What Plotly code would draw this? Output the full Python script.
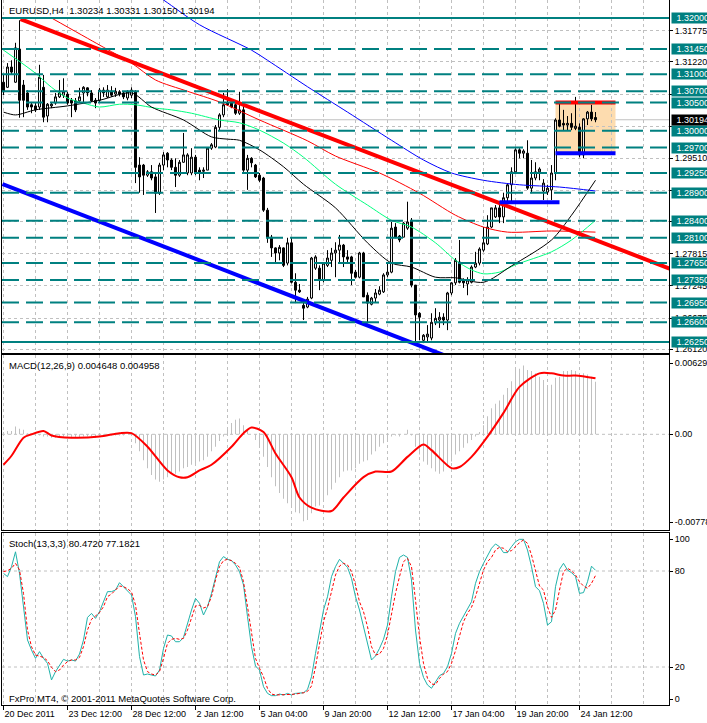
import plotly.graph_objects as go

# ---------------- data ----------------
bar_idx = list(range(149))

open_ = [
    1.3086, 1.3077, 1.3113, 1.3086, 1.3145, 1.3081, 1.3067, 1.3046, 1.3044, 1.3042,
    1.3077, 1.3026, 1.3044, 1.3049, 1.3060, 1.3063, 1.3065, 1.3054, 1.3053, 1.3053,
    1.3067, 1.3076, 1.3067, 1.3054, 1.3054, 1.3072, 1.3060, 1.3070, 1.3065, 1.3069,
    1.3067, 1.3058, 1.3063, 1.3069, 1.2939, 1.2939, 1.2921, 1.2927, 1.2918, 1.2889,
    1.2939, 1.2960, 1.2948, 1.2935, 1.2921, 1.2944, 1.2925, 1.2925, 1.2953, 1.2930,
    1.2928, 1.2930, 1.2969, 1.2971, 1.3006, 1.3028, 1.3049, 1.3049, 1.3046, 1.3031,
    1.3037, 1.2930, 1.2951, 1.2939, 1.2921, 1.2916, 1.2859, 1.2811, 1.2792, 1.2783,
    1.2792, 1.2765, 1.2801, 1.2731, 1.2717, 1.2690, 1.2687, 1.2703, 1.2756, 1.2756,
    1.2735, 1.2761, 1.2770, 1.2783, 1.2788, 1.2797, 1.2776, 1.2776, 1.2749, 1.2740,
    1.2783, 1.2708, 1.2692, 1.2703, 1.2710, 1.2714, 1.2744, 1.2749, 1.2829, 1.2813,
    1.2811, 1.2827, 1.2841, 1.2726, 1.2676, 1.2628, 1.2634, 1.2632, 1.2659, 1.2664,
    1.2669, 1.2664, 1.2712, 1.2730, 1.2767, 1.2735, 1.2728, 1.2731, 1.2758, 1.2765,
    1.2788, 1.2799, 1.2829, 1.2847, 1.2863, 1.2847, 1.2881, 1.2904, 1.2927, 1.2966,
    1.2960, 1.2960, 1.2898, 1.2916, 1.2927, 1.2893, 1.2891, 1.2895, 1.2925, 1.3019,
    1.3013, 1.3010, 1.3013, 1.3004, 1.3006, 1.2957, 1.3021, 1.3033, 1.30234]
high = [
    1.3099, 1.3120, 1.3125, 1.3156, 1.3196, 1.3090, 1.3072, 1.3051, 1.3049, 1.3117,
    1.3099, 1.3049, 1.3051, 1.3067, 1.3090, 1.3093, 1.3069, 1.3058, 1.3058, 1.3076,
    1.3079, 1.3077, 1.3072, 1.3058, 1.3076, 1.3077, 1.3081, 1.3079, 1.3076, 1.3072,
    1.3070, 1.3072, 1.3077, 1.3072, 1.2953, 1.2941, 1.2930, 1.2939, 1.2925, 1.2943,
    1.2962, 1.2962, 1.2951, 1.2951, 1.2948, 1.2996, 1.2960, 1.2969, 1.2957, 1.2935,
    1.2935, 1.2971, 1.2978, 1.3010, 1.3031, 1.3067, 1.3074, 1.3056, 1.3049, 1.3069,
    1.3049, 1.2957, 1.2953, 1.2941, 1.2925, 1.2918, 1.2863, 1.2815, 1.2793, 1.2797,
    1.2793, 1.2810, 1.2810, 1.2747, 1.2728, 1.2699, 1.2705, 1.2776, 1.2779, 1.2761,
    1.2767, 1.2788, 1.2792, 1.2802, 1.2815, 1.2799, 1.2788, 1.2778, 1.2753, 1.2785,
    1.2785, 1.2713, 1.2705, 1.2719, 1.2724, 1.2747, 1.2767, 1.2838, 1.2836, 1.2815,
    1.2838, 1.2874, 1.2845, 1.2726, 1.2678, 1.2639, 1.2655, 1.2676, 1.2685, 1.2678,
    1.2676, 1.2714, 1.2731, 1.2774, 1.2806, 1.2738, 1.2740, 1.2761, 1.2785, 1.2793,
    1.2829, 1.2850, 1.2863, 1.2868, 1.2874, 1.2890, 1.2907, 1.2935, 1.2969, 1.2969,
    1.2967, 1.2983, 1.2948, 1.2944, 1.2935, 1.2914, 1.2904, 1.2939, 1.3022, 1.3051,
    1.3037, 1.3026, 1.3031, 1.3060, 1.3013, 1.3022, 1.3035, 1.3046, 1.30331]
low = [
    1.3063, 1.3076, 1.3099, 1.3085, 1.3023, 1.3024, 1.3037, 1.3031, 1.3033, 1.3037,
    1.3015, 1.3015, 1.3040, 1.3046, 1.3058, 1.3058, 1.3046, 1.3024, 1.3033, 1.3051,
    1.3051, 1.3061, 1.3051, 1.3040, 1.3051, 1.3060, 1.3058, 1.3060, 1.3060, 1.3061,
    1.3056, 1.3054, 1.3058, 1.2907, 1.2890, 1.2886, 1.2918, 1.2912, 1.2854, 1.2886,
    1.2930, 1.2935, 1.2930, 1.2900, 1.2918, 1.2943, 1.2921, 1.2921, 1.2921, 1.2912,
    1.2916, 1.2930, 1.2966, 1.2969, 1.3001, 1.3024, 1.3044, 1.3040, 1.3028, 1.3028,
    1.2927, 1.2895, 1.2935, 1.2916, 1.2909, 1.2856, 1.2801, 1.2776, 1.2767, 1.2770,
    1.2758, 1.2761, 1.2729, 1.2694, 1.2712, 1.2664, 1.2685, 1.2701, 1.2753, 1.2717,
    1.2731, 1.2758, 1.2758, 1.2740, 1.2767, 1.2758, 1.2765, 1.2726, 1.2738, 1.2738,
    1.2705, 1.2658, 1.2690, 1.2696, 1.2708, 1.2712, 1.2740, 1.2747, 1.2809, 1.2802,
    1.2811, 1.2824, 1.2722, 1.2623, 1.2628, 1.2623, 1.2625, 1.2628, 1.2655, 1.2650,
    1.2655, 1.2646, 1.2708, 1.2726, 1.2729, 1.2721, 1.2708, 1.2729, 1.2756, 1.2761,
    1.2785, 1.2797, 1.2827, 1.2845, 1.2836, 1.2836, 1.2872, 1.2872, 1.2925, 1.2951,
    1.2951, 1.2895, 1.2889, 1.2912, 1.2912, 1.2877, 1.2886, 1.2877, 1.2912, 1.3006,
    1.3001, 1.3001, 1.3001, 1.3001, 1.2953, 1.2951, 1.3010, 1.3017, 1.30150]
close = [
    1.3069, 1.3113, 1.3104, 1.3147, 1.3054, 1.3054, 1.3042, 1.3042, 1.3037, 1.3095,
    1.3024, 1.3047, 1.3047, 1.3060, 1.3067, 1.3069, 1.3049, 1.3049, 1.3037, 1.3060,
    1.3077, 1.3067, 1.3053, 1.3049, 1.3072, 1.3067, 1.3072, 1.3063, 1.3070, 1.3065,
    1.3060, 1.3069, 1.3072, 1.2935, 1.2918, 1.2921, 1.2927, 1.2916, 1.2889, 1.2939,
    1.2957, 1.2948, 1.2935, 1.2921, 1.2944, 1.2957, 1.2957, 1.2953, 1.2925, 1.2925,
    1.2930, 1.2969, 1.2975, 1.3006, 1.3028, 1.3046, 1.3046, 1.3042, 1.3031, 1.3037,
    1.2930, 1.2951, 1.2943, 1.2918, 1.2912, 1.2859, 1.2810, 1.2792, 1.2783, 1.2793,
    1.2761, 1.2801, 1.2731, 1.2717, 1.2714, 1.2685, 1.2701, 1.2774, 1.2776, 1.2735,
    1.2765, 1.2774, 1.2783, 1.2788, 1.2797, 1.2776, 1.2772, 1.2747, 1.2740, 1.2783,
    1.2705, 1.2694, 1.2703, 1.2712, 1.2717, 1.2744, 1.2749, 1.2827, 1.2811, 1.2806,
    1.2836, 1.2838, 1.2726, 1.2673, 1.2669, 1.2637, 1.2639, 1.2660, 1.2667, 1.2669,
    1.2664, 1.2712, 1.2730, 1.2770, 1.2731, 1.2730, 1.2735, 1.2758, 1.2765, 1.2790,
    1.2801, 1.2829, 1.2863, 1.2863, 1.2847, 1.2881, 1.2904, 1.2927, 1.2966, 1.2960,
    1.2964, 1.2898, 1.2916, 1.2927, 1.2932, 1.2907, 1.2898, 1.2925, 1.3019, 1.3008,
    1.3010, 1.3013, 1.3006, 1.3008, 1.2957, 1.3021, 1.3033, 1.3021, 1.30194]

# moving averages (read at sample bars)
ma_blue_idx = [32, 40, 49, 62, 66, 76, 86, 97, 105, 112, 120, 129, 139, 148]
ma_blue_val = [1.3270, 1.3232, 1.3188, 1.3143, 1.3125, 1.3078, 1.3033, 1.2983, 1.2948,
               1.2925, 1.2912, 1.2904, 1.2900, 1.2893]
ma_red_idx = [12, 24, 32, 38, 46, 54, 64, 76, 83, 94, 104, 113, 120, 126, 137, 148]
ma_red_val = [1.3200, 1.3152, 1.3120, 1.3090, 1.3070, 1.3051, 1.3019, 1.2982, 1.2955,
              1.2925, 1.2889, 1.2850, 1.2829, 1.2820, 1.2822, 1.2820]
ma_black_idx = [0, 3, 8, 16, 24, 32, 37, 45, 52, 56, 59, 64, 70, 75, 83, 91, 97, 102,
                108, 113, 120, 127, 137, 142, 148]
ma_black_val = [1.3033, 1.3028, 1.3037, 1.3044, 1.3054, 1.3067, 1.3042, 1.3019, 1.2989,
                1.2985, 1.2983, 1.2966, 1.2936, 1.2905, 1.2863, 1.2801, 1.2765, 1.2758,
                1.2740, 1.2739, 1.2731, 1.2760, 1.2806, 1.2850, 1.2912]
ma_green_idx = [0, 8, 12, 16, 20, 24, 29, 33, 38, 42, 47, 54, 59, 64, 70, 75, 83, 91, 97,
                102, 108, 113, 117, 120, 124, 128, 137, 142, 148]
ma_green_val = [1.3143, 1.3102, 1.3077, 1.3058, 1.3049, 1.3042, 1.3047, 1.3046, 1.3040,
                1.3037, 1.3031, 1.3019, 1.3014, 1.3001, 1.2978, 1.2953, 1.2905, 1.2868,
                1.2841, 1.2829, 1.2801, 1.2770, 1.2753, 1.2746, 1.2749, 1.2762, 1.2785,
                1.2806, 1.2841]

# drawn objects
trend_red_idx = [4.25, 166.5]
trend_red_val = [1.31982, 1.27554]
trend_blue_idx = [-0.25, 110.0]
trend_blue_val = [1.29054, 1.26020]
support_idx = [124, 139]
support_val = [1.2873, 1.2873]
box_idx = [138, 153]
box_top = 1.3050
box_bottom = 1.2960

levels_dashed = [1.3145, 1.3100, 1.3070, 1.3050, 1.3000, 1.2970, 1.2925, 1.2890,
                 1.2840, 1.2810, 1.2765, 1.2735, 1.2695, 1.2660]
levels_solid = [1.3200, 1.2625]
bid_price = 1.30194

price_grid = [1.31775, 1.31220, 1.30650, 1.30080, 1.29510, 1.28945, 1.28380,
              1.27815, 1.27245, 1.26675, 1.26120]
price_grid_text = ["1.31775", "1.31220", "", "", "1.29510", "", "",
                   "1.27815", "1.27245", "1.26675", "1.26120"]

x_tick_idx = [0, 16, 32, 48, 64, 80, 96, 112, 128, 144]
x_tick_lbl = ["20 Dec 2011", "23 Dec 12:00", "28 Dec 12:00", "2 Jan 12:00",
              "5 Jan 04:00", "9 Jan 20:00", "12 Jan 12:00", "17 Jan 04:00",
              "19 Jan 20:00", "24 Jan 12:00"]

macd_hist = [
    0.0002, 0.0003, 0.0003, 0.0007, 0.0005, 0.0004, 0.0001, 0.0000, -0.0001, -0.0001,
    -0.0002, -0.0002, -0.0003, -0.0003, -0.0003, -0.0002, -0.0002, -0.0003, -0.0003, -0.0003,
    -0.0002, -0.0002, -0.0002, -0.0003, -0.0002, -0.0002, -0.0001, -0.0001, -0.0001, -0.0001,
    -0.0001, 0.0000, 0.0000, -0.0008, -0.0015, -0.0023, -0.0030, -0.0036, -0.0040, -0.0042,
    -0.0040, -0.0038, -0.0035, -0.0035, -0.0033, -0.0030, -0.0029, -0.0027, -0.0026, -0.0024,
    -0.0023, -0.0020, -0.0015, -0.0011, -0.0006, -0.0002, 0.0004, 0.0010, 0.0013, 0.0014,
    0.0008, 0.0004, 0.0000, -0.0005, -0.0011, -0.0020, -0.0029, -0.0038, -0.0046, -0.0052,
    -0.0057, -0.0061, -0.0064, -0.0069, -0.0070, -0.0077, -0.0076, -0.0070, -0.0064, -0.0063,
    -0.0058, -0.0054, -0.0049, -0.0043, -0.0038, -0.0033, -0.0032, -0.0032, -0.0030, -0.0026,
    -0.0024, -0.0023, -0.0018, -0.0015, -0.0011, -0.0008, -0.0005, -0.0002, -0.0001, -0.0002,
    0.0000, 0.0004, -0.0001, -0.0011, -0.0018, -0.0024, -0.0027, -0.0030, -0.0033, -0.0035,
    -0.0033, -0.0029, -0.0024, -0.0018, -0.0015, -0.0012, -0.0008, -0.0005, -0.0002, 0.0002,
    0.0008, 0.0016, 0.0023, 0.0027, 0.0030, 0.0035, 0.0041, 0.0047, 0.0057, 0.0058,
    0.0061, 0.0057, 0.0056, 0.0054, 0.0051, 0.0048, 0.0042, 0.0044, 0.0050, 0.0051,
    0.0056, 0.0056, 0.0057, 0.0056, 0.0054, 0.0054, 0.0053, 0.0051, 0.004648]
macd_sig_idx = [0, 2, 5, 7, 10, 12, 17, 24, 29, 32, 36, 41, 44, 46, 49, 52, 57, 60, 62,
                65, 68, 72, 74, 77, 82, 85, 90, 93, 97, 101, 105, 107, 112, 114, 117,
                121, 125, 129, 134, 137, 140, 143, 148]
macd_sig_val = [-0.0027, -0.0019, -0.0003, 0.0000, 0.0003, -0.0001, -0.0003, -0.0002,
                0.0001, 0.0001, -0.0011, -0.0032, -0.0038, -0.0038, -0.0032, -0.0027,
                -0.0011, 0.0001, 0.0006, 0.0002, -0.0017, -0.0038, -0.0056, -0.0065,
                -0.0068, -0.0056, -0.0038, -0.0033, -0.0033, -0.0020, -0.0009, -0.0014,
                -0.0030, -0.0029, -0.0020, -0.0002, 0.0019, 0.0042, 0.0054, 0.0054,
                0.0052, 0.0052, 0.004958]
macd_ticks = [0.006293, 0.0, -0.00778]
macd_tick_text = ["0.006293", "0.00", "-0.00778"]

stoch_k = [
    78.5, 76.5, 82.7, 92, 78.5, 57.7, 36.9, 30.6, 25.4, 29.6,
    25.4, 22.3, 11.9, 17.1, 21.2, 24.8, 23.7, 24.4, 23.7, 28.1,
    36.9, 51, 53.5, 50.4, 54.6, 61.5, 67.1, 67.1, 68.1, 72.7,
    70.2, 67.7, 65, 51.5, 26.5, 15, 15.6, 15, 14.4, 18.1,
    31.6, 40, 39.4, 35.8, 35.8, 38.5, 47.3, 55.6, 62.9, 59.8,
    52.5, 57.7, 66, 76.5, 85.8, 89, 87.3, 86.5, 83.8, 79.6,
    71.3, 51.5, 32.7, 20.6, 18.1, 7.7, 3.5, 2.1, 2.1, 3.1,
    2.5, 3.5, 2.5, 3.5, 3.5, 3.9, 6, 13.9, 28.5, 43,
    55.6, 63.9, 76.5, 82.7, 87.3, 84.8, 82.3, 75.4, 63.9, 55.6,
    45.6, 33.8, 24.4, 26.9, 31.6, 37.3, 46.2, 63.9, 79.6, 88.5,
    90, 88.5, 74.4, 43.1, 22.3, 13.5, 8.75, 6.7, 10.8, 14.6,
    16, 20.2, 28.5, 41, 47.3, 51.9, 56.1, 60.8, 72.3, 79.6,
    84.8, 90, 94.2, 96.9, 95.2, 91.5, 91.5, 95.2, 98.3, 99.8,
    99.8, 93.1, 82.7, 70.2, 67.7, 59.8, 46.2, 48.3, 70.2, 81,
    84.8, 80.6, 79, 76.5, 66, 66.5, 73.3, 83, 80.472]
stoch_d = [
    79.6, 80.2, 81.7, 84.8, 80.6, 66, 43.1, 32.7, 27.5, 26.9,
    26, 23.9, 19.8, 17.1, 18.1, 21.2, 23.3, 24.4, 24.4, 26,
    32.7, 43.1, 49.8, 51.9, 54, 57.7, 64, 65.6, 68.1, 70.6,
    70.2, 68.9, 66.9, 58.8, 41, 24.4, 17.1, 15.6, 15, 17.1,
    25.4, 34.8, 37.3, 37.9, 37.3, 37.9, 43.1, 51, 58.1, 58.5,
    56.9, 57.7, 64, 74.4, 82.7, 86.5, 87.3, 86.5, 84.8, 82.3,
    73.3, 57.7, 40, 25.4, 19.2, 13.9, 6.6, 3.1, 2.5, 2.5,
    2.7, 2.9, 2.9, 3.1, 3.5, 3.9, 4.8, 8.1, 20.2, 34.8,
    48.3, 56.7, 68.1, 77.5, 83.1, 84.8, 83.8, 79.6, 71.3, 60.8,
    54.6, 45.2, 32.7, 27.5, 28.1, 31.6, 40, 53.5, 66, 76.5,
    85.8, 87.9, 82.7, 61.9, 39, 22.3, 12.9, 9.4, 9, 12.9,
    15.6, 17.1, 22.3, 30.2, 40, 48.3, 53.5, 57.3, 64, 72.3,
    80.6, 85.8, 88.5, 93.1, 94.8, 94.2, 92.1, 92.7, 95.2, 97.7,
    99.4, 97.3, 90, 80.6, 70.6, 68.1, 57.7, 51, 55.6, 68.1,
    79.6, 81.7, 80.2, 77.5, 73.3, 70.6, 69.2, 72.3, 77.182]
stoch_ticks = [100, 80, 20, 0]
stoch_levels = [80, 20]

# ---------------- styling ----------------
FONT = "Tahoma, 'Liberation Sans', Arial, sans-serif"
FS = 9
GRID = "#C0C0C0"
TEAL = "#008080"
X_RANGE = [-0.375, 166.375]

fig = go.Figure()

fig.add_trace(go.Candlestick(
    x=bar_idx, open=open_, high=high, low=low, close=close,
    xaxis="x", yaxis="y", whiskerwidth=0, showlegend=False, hoverinfo="skip",
    increasing=dict(line=dict(color="black", width=1), fillcolor="white"),
    decreasing=dict(line=dict(color="black", width=1), fillcolor="black")))

for idx, val, col in [(ma_blue_idx, ma_blue_val, "#0000FF"),
                      (ma_red_idx, ma_red_val, "#FF0000"),
                      (ma_green_idx, ma_green_val, "#00FF7F"),
                      (ma_black_idx, ma_black_val, "#000000")]:
    fig.add_trace(go.Scatter(x=idx, y=val, mode="lines", xaxis="x", yaxis="y",
                             line=dict(color=col, width=1, shape="spline", smoothing=0.8),
                             showlegend=False, hoverinfo="skip"))

for xs, ys, col in [(trend_red_idx, trend_red_val, "#FF0000"),
                    (trend_blue_idx, trend_blue_val, "#0000FF"),
                    (support_idx, support_val, "#0000FF"),
                    (box_idx, [box_top, box_top], "#FF0000"),
                    (box_idx, [box_bottom, box_bottom], "#0000FF")]:
    fig.add_trace(go.Scatter(x=xs, y=ys, mode="lines", xaxis="x", yaxis="y",
                             line=dict(color=col, width=4), showlegend=False,
                             hoverinfo="skip"))

# MACD
fig.add_trace(go.Bar(x=bar_idx, y=macd_hist, width=0.25, xaxis="x2", yaxis="y2",
                     marker=dict(color="#C0C0C0", line=dict(width=0)),
                     showlegend=False, hoverinfo="skip"))
fig.add_trace(go.Scatter(x=macd_sig_idx, y=macd_sig_val, mode="lines", xaxis="x2", yaxis="y2",
                         line=dict(color="#FF0000", width=2, shape="spline", smoothing=0.8),
                         showlegend=False, hoverinfo="skip"))

# Stochastic
fig.add_trace(go.Scatter(x=bar_idx, y=stoch_k, mode="lines", xaxis="x3", yaxis="y3",
                         line=dict(color="#20B2AA", width=1), showlegend=False, hoverinfo="skip"))
fig.add_trace(go.Scatter(x=bar_idx, y=stoch_d, mode="lines", xaxis="x3", yaxis="y3",
                         line=dict(color="#FF0000", width=1, dash="3px,2px"),
                         showlegend=False, hoverinfo="skip"))

# ---------------- layout ----------------
def xaxis(anchor, labels):
    d = dict(domain=[0, 1], anchor=anchor, range=X_RANGE, zeroline=False,
             showline=True, mirror=True, linecolor="black", linewidth=1,
             showgrid=True, gridcolor=GRID, gridwidth=1, griddash="3px,3px",
             tickmode="array", tickvals=x_tick_idx, automargin=False,
             minor=dict(tickmode="linear", tick0=0, dtick=8, showgrid=True,
                        gridcolor=GRID, griddash="3px,3px", ticks=""),
             rangeslider=dict(visible=False), fixedrange=True)
    if labels:
        d.update(ticktext=x_tick_lbl, ticks="outside", ticklen=4, tickcolor="black",
                 tickangle=0, ticklabelposition="outside right",
                 tickfont=dict(family=FONT, size=FS, color="black"))
    else:
        d.update(showticklabels=False, ticks="")
    return d

yax_common = dict(side="right", zeroline=False, showline=True, mirror=True,
                  linecolor="black", linewidth=1, ticks="outside", ticklen=3,
                  tickcolor="black", tickfont=dict(family=FONT, size=FS, color="black"),
                  automargin=False, fixedrange=True)

fig.update_layout(
    width=707, height=723, margin=dict(l=2, r=38, t=0, b=18, autoexpand=False),
    paper_bgcolor="white", plot_bgcolor="white", showlegend=False,
    font=dict(family=FONT, size=FS, color="black"),
    xaxis=xaxis("y", False), xaxis2=xaxis("y2", False), xaxis3=xaxis("y3", True),
    yaxis=dict(domain=[1 - 353 / 705, 1], range=[1.260548, 1.323194],
               tickmode="array", tickvals=price_grid, ticktext=price_grid_text,
               showgrid=True, gridcolor=GRID, griddash="3px,3px", **yax_common),
    yaxis2=dict(domain=[1 - 530 / 705, 1 - 355 / 705], range=[-0.008479, 0.007026],
                tickmode="array", tickvals=macd_ticks, ticktext=macd_tick_text,
                showgrid=False, **yax_common),
    yaxis3=dict(domain=[0, 1 - 533 / 705], range=[-3.75, 103.75],
                tickmode="array", tickvals=stoch_ticks,
                ticktext=[str(v) for v in stoch_ticks],
                showgrid=False, **yax_common),
)

shapes = []
shapes.append(dict(type="rect", xref="x", yref="y", x0=box_idx[0], x1=box_idx[1],
                   y0=box_bottom, y1=box_top, fillcolor="#FDDCAF", line=dict(width=0),
                   layer="below"))
shapes.append(dict(type="line", xref="x domain", yref="y", x0=0, x1=1, y0=bid_price,
                   y1=bid_price, line=dict(color=GRID, width=1), layer="below"))
for lv in levels_dashed:
    shapes.append(dict(type="line", xref="x domain", yref="y", x0=0, x1=1, y0=lv, y1=lv,
                       line=dict(color=TEAL, width=2, dash="17px,7px")))
for lv in levels_solid:
    shapes.append(dict(type="line", xref="x domain", yref="y", x0=0, x1=1, y0=lv, y1=lv,
                       line=dict(color=TEAL, width=2)))
shapes.append(dict(type="line", xref="x2 domain", yref="y2", x0=0, x1=1, y0=0, y1=0,
                   line=dict(color=GRID, width=1, dash="3px,3px"), layer="below"))
for lv in stoch_levels:
    shapes.append(dict(type="line", xref="x3 domain", yref="y3", x0=0, x1=1, y0=lv, y1=lv,
                       line=dict(color=GRID, width=1, dash="3px,3px"), layer="below"))
fig.update_layout(shapes=shapes)

ann = []
for lv in levels_dashed + levels_solid:
    ann.append(dict(xref="paper", yref="y", x=1, y=lv, xanchor="left", yanchor="middle",
                    xshift=2, text=f"{lv:.5f}", showarrow=False, bgcolor=TEAL,
                    font=dict(family=FONT, size=FS, color="white"),
                    width=37, height=10, align="right", borderpad=0))
ann.append(dict(xref="paper", yref="y", x=1, y=bid_price, xanchor="left", yanchor="middle",
                xshift=2, text=f"{bid_price:.5f}", showarrow=False, bgcolor="black",
                font=dict(family=FONT, size=FS, color="white"),
                width=37, height=10, align="right", borderpad=0))

def px_text(txt, px_x, px_y):
    return dict(xref="paper", yref="paper", x=(px_x - 2) / 667, y=1 - px_y / 705,
                xanchor="left", yanchor="middle", text=txt, showarrow=False,
                font=dict(family=FONT, size=FS + 0.5, color="black"))

ann.append(px_text("EURUSD,H4\u00a0\u00a01.30234 1.30331 1.30150 1.30194", 7, 10))
ann.append(px_text("MACD(12,26,9) 0.004648 0.004958", 7, 365))
ann.append(px_text("Stoch(13,3,3) 80.4720 77.1821", 7, 543))
ann.append(px_text("FxPro MT4, \u00a9 2001-2011 MetaQuotes Software Corp.", 7, 698))
fig.update_layout(annotations=ann)

fig.write_html(
    "out.html",
    config={"displayModeBar": False, "staticPlot": True},
    post_script="document.body.style.margin='0';document.body.style.padding='0';"
                "document.body.style.overflow='hidden';",
)
